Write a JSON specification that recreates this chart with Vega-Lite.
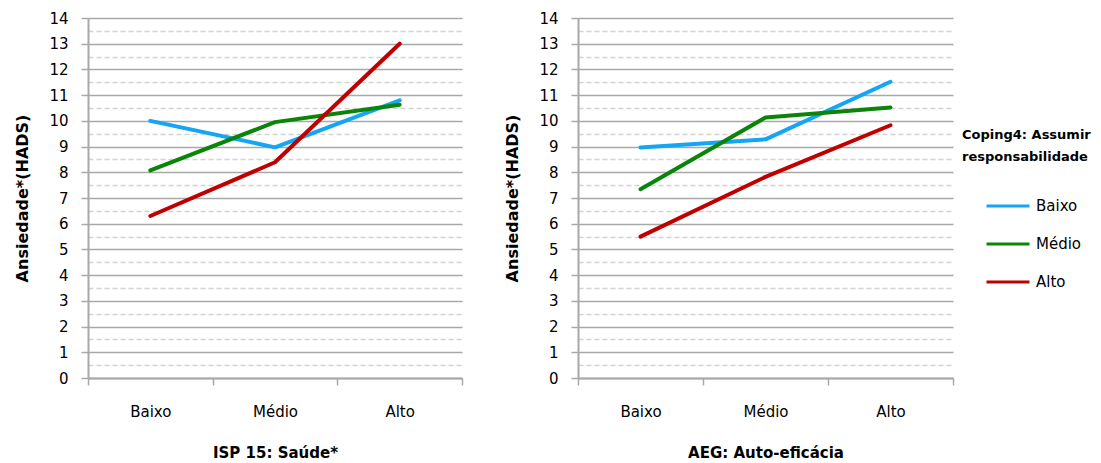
{
  "$schema": "https://vega.github.io/schema/vega-lite/v6.json",
  "background": "white",
  "padding": {"left": 14, "top": 11, "right": 2, "bottom": 5},
  "spacing": 41,
  "hconcat": [
    {
      "width": 374,
      "height": 360,
      "data": {"values": [
        {"nivel": "Baixo", "coping": "Baixo", "ansiedade": 10.0},
        {"nivel": "Médio", "coping": "Baixo", "ansiedade": 8.97},
        {"nivel": "Alto", "coping": "Baixo", "ansiedade": 10.8},
        {"nivel": "Baixo", "coping": "Médio", "ansiedade": 8.07},
        {"nivel": "Médio", "coping": "Médio", "ansiedade": 9.95},
        {"nivel": "Alto", "coping": "Médio", "ansiedade": 10.63},
        {"nivel": "Baixo", "coping": "Alto", "ansiedade": 6.3},
        {"nivel": "Médio", "coping": "Alto", "ansiedade": 8.39},
        {"nivel": "Alto", "coping": "Alto", "ansiedade": 13.0}
      ]},
      "mark": {"type": "line", "strokeWidth": 4, "strokeCap": "round", "strokeJoin": "round"},
      "encoding": {
        "x": {"field": "nivel", "type": "nominal", "sort": ["Baixo", "Médio", "Alto"],
              "scale": {"type": "band", "paddingInner": 0, "paddingOuter": 0},
              "axis": {"title": "ISP 15:  Saúde*"}},
        "y": {"field": "ansiedade", "type": "quantitative", "scale": {"domain": [0, 14], "nice": false, "zero": true},
              "axis": {
                "title": "Ansiedade*(HADS)",
                "values": [0, 0.5, 1, 1.5, 2, 2.5, 3, 3.5, 4, 4.5, 5, 5.5, 6, 6.5, 7, 7.5, 8, 8.5, 9, 9.5, 10, 10.5, 11, 11.5, 12, 12.5, 13, 13.5, 14],
                "labelExpr": "datum.value % 1 === 0 ? format(datum.value, 'd') : ''",
                "grid": true,
                "gridColor": {"condition": {"test": "datum.value % 1 !== 0", "value": "#d2d2d2"}, "value": "#a8a8a8"},
                "gridDash": {"condition": {"test": "datum.value % 1 !== 0", "value": [5, 3]}, "value": []},
                "gridWidth": 1.5,
                "tickOpacity": {"condition": {"test": "datum.value % 1 !== 0", "value": 0}, "value": 1},
                "tickSize": 7,
                "labelPadding": 13,
                "labelFlush": false,
                "labelBound": false,
                "labelOverlap": false,
                "titleFontSize": 16,
                "titlePadding": 18
              }},
        "color": {"field": "coping", "type": "nominal", "sort": ["Baixo", "Médio", "Alto"],
                  "scale": {"domain": ["Baixo", "Médio", "Alto"], "range": ["#14a5f5", "#0a850a", "#c00000"]},
                  "legend": null}
      }
    },
    {
      "width": 375,
      "height": 360,
      "data": {"values": [
        {"nivel": "Baixo", "coping": "Baixo", "ansiedade": 8.96},
        {"nivel": "Médio", "coping": "Baixo", "ansiedade": 9.28},
        {"nivel": "Alto", "coping": "Baixo", "ansiedade": 11.52},
        {"nivel": "Baixo", "coping": "Médio", "ansiedade": 7.34},
        {"nivel": "Médio", "coping": "Médio", "ansiedade": 10.13},
        {"nivel": "Alto", "coping": "Médio", "ansiedade": 10.52},
        {"nivel": "Baixo", "coping": "Alto", "ansiedade": 5.5},
        {"nivel": "Médio", "coping": "Alto", "ansiedade": 7.82},
        {"nivel": "Alto", "coping": "Alto", "ansiedade": 9.83}
      ]},
      "mark": {"type": "line", "strokeWidth": 4, "strokeCap": "round", "strokeJoin": "round"},
      "encoding": {
        "x": {"field": "nivel", "type": "nominal", "sort": ["Baixo", "Médio", "Alto"],
              "scale": {"type": "band", "paddingInner": 0, "paddingOuter": 0},
              "axis": {"title": "AEG:  Auto-eficácia"}},
        "y": {"field": "ansiedade", "type": "quantitative", "scale": {"domain": [0, 14], "nice": false, "zero": true},
              "axis": {
                "title": "Ansiedade*(HADS)",
                "values": [0, 0.5, 1, 1.5, 2, 2.5, 3, 3.5, 4, 4.5, 5, 5.5, 6, 6.5, 7, 7.5, 8, 8.5, 9, 9.5, 10, 10.5, 11, 11.5, 12, 12.5, 13, 13.5, 14],
                "labelExpr": "datum.value % 1 === 0 ? format(datum.value, 'd') : ''",
                "grid": true,
                "gridColor": {"condition": {"test": "datum.value % 1 !== 0", "value": "#d2d2d2"}, "value": "#a8a8a8"},
                "gridDash": {"condition": {"test": "datum.value % 1 !== 0", "value": [5, 3]}, "value": []},
                "gridWidth": 1.5,
                "tickOpacity": {"condition": {"test": "datum.value % 1 !== 0", "value": 0}, "value": 1},
                "tickSize": 7,
                "labelPadding": 13,
                "labelFlush": false,
                "labelBound": false,
                "labelOverlap": false,
                "titleFontSize": 16,
                "titlePadding": 18
              }},
        "color": {"field": "coping", "type": "nominal", "sort": ["Baixo", "Médio", "Alto"],
                  "scale": {"domain": ["Baixo", "Médio", "Alto"], "range": ["#14a5f5", "#0a850a", "#c00000"]},
                  "legend": {
                    "title": ["Coping4: Assumir", "responsabilidade"],
                    "orient": "none",
                    "legendX": 384,
                    "legendY": 111,
                    "symbolType": "stroke",
                    "symbolSize": 1849,
                    "symbolStrokeWidth": 3,
                    "symbolOffset": 23,
                    "labelFontSize": 15,
                    "labelOffset": 5,
                    "titleFontSize": 13,
                    "titleFontWeight": "bold",
                    "titleLineHeight": 22,
                    "titlePadding": 19,
                    "rowPadding": 7,
                    "labelColor": "#000000",
                    "titleColor": "#000000"
                  }}
      }
    }
  ],
  "resolve": {"scale": {"color": "independent"}},
  "config": {
    "font": "DejaVu Sans",
    "view": {"stroke": null},
    "axisX": {
      "tickBand": "extent",
      "labelAngle": 0,
      "grid": false,
      "tickSize": 7,
      "labelPadding": 19,
      "titleFontSize": 15,
      "titlePadding": 26
    },
    "axis": {
      "domainColor": "#a8a8a8",
      "domainWidth": 2,
      "tickColor": "#a8a8a8",
      "tickWidth": 1.5,
      "labelFontSize": 15,
      "labelColor": "#000000",
      "titleFontSize": 14,
      "titleFontWeight": "bold",
      "titleColor": "#000000"
    }
  }
}
